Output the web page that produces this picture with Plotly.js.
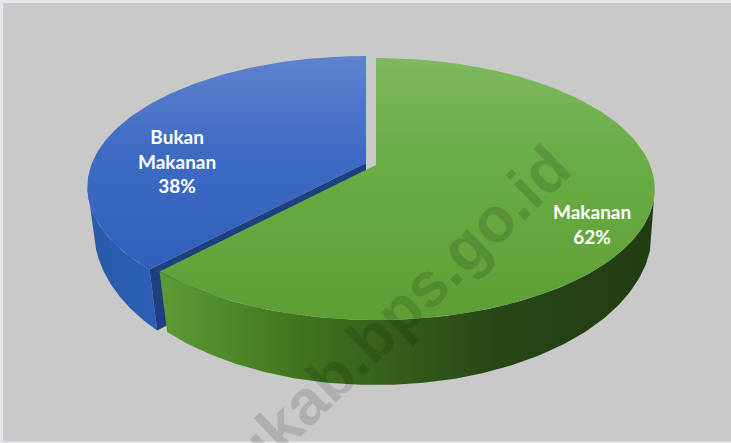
<!DOCTYPE html>
<html><head><meta charset="utf-8">
<script src="https://cdn.plot.ly/plotly-3.0.1.min.js"></script>
<style>html,body{margin:0;padding:0;background:#e3e6ea}#c{width:731px;height:443px}</style>
</head><body><div id="c"></div>
<script>
var categories = ['Bukan Makanan', 'Makanan'];
var labelLines = ['Bukan<br>Makanan', 'Makanan'];
var values = [38, 62];
var watermark = 'ukab.bps.go.id';

// Perspective view of the pie disc (upper face) and the ellipse of its lower rim
var apexGreen = [376, 165], apexBlue = [366, 163];
var RX = 274, RY = 126.6, K = 0.183, LOWER_X = 0.965;
var rimGreen = { cx: 376, cy: 232, a: 276, b: 153 };
var rimBlue = { cx: 366, cy: 230, a: 272, b: 157 };
function project(apex, a) { // a = clockwise radians from top
  var u = Math.sin(a), v = Math.cos(a), w = 1 + K * v;
  return [apex[0] + RX * u / w, apex[1] - RY * v / w];
}
function arc(apex, a0, a1) {
  var pts = [], n = 120;
  for (var i = 0; i <= n; i++) pts.push(project(apex, a0 + (a1 - a0) * i / n));
  return pts;
}
// lower rim, t measured from straight down (negative = to the left)
function rimArc(r, t0, t1) {
  var pts = [], n = 120;
  for (var i = 0; i <= n; i++) {
    var t = t0 + (t1 - t0) * i / n;
    pts.push([r.cx + r.a * Math.sin(t), r.cy + r.b * Math.cos(t)]);
  }
  return pts;
}
function poly(pts, color, grad) {
  var t = { type: 'scatter', mode: 'lines', hoverinfo: 'skip', showlegend: false,
    x: pts.map(function (p) { return p[0]; }), y: pts.map(function (p) { return p[1]; }),
    fill: 'toself', line: { width: 0, color: 'rgba(0,0,0,0)' }, fillcolor: color };
  if (grad) t.fillgradient = grad;
  return t;
}
function extremeIndex(pts, sign) {
  var best = 0;
  pts.forEach(function (p, i) { if (sign * p[0] > sign * pts[best][0]) best = i; });
  return best;
}
var total = values[0] + values[1];
var cut = 2 * Math.PI * values[0] / total;
var blueArc = arc(apexBlue, -cut, 0);
var greenArc = arc(apexGreen, 0, 2 * Math.PI - cut);
var blueCorner = blueArc[0], greenCorner = greenArc[greenArc.length - 1];
var tBlue = Math.asin((blueCorner[0] - apexBlue[0]) * LOWER_X / rimBlue.a);
var tGreen = Math.asin((greenCorner[0] - apexGreen[0]) * LOWER_X / rimGreen.a);
var RIM_END = 83 * Math.PI / 180;
var blueRim = rimArc(rimBlue, tBlue, -RIM_END);
var greenRim = rimArc(rimGreen, tGreen, RIM_END);
var blueLowCorner = blueRim[0];
var blueLowApex = [apexBlue[0], apexBlue[1] + 60];
var blueUpper = blueArc.slice(0, extremeIndex(blueArc, -1) + 1).reverse();
var greenUpper = greenArc.slice(extremeIndex(greenArc, 1));
var traces = [
  poly(blueRim.concat(blueUpper), '#2c5cad', { type: 'horizontal', start: 85, stop: 160,
    colorscale: [[0, '#2b5aa6'], [1, '#2b5fb8']] }),
  poly([blueCorner, apexBlue, blueLowApex, blueLowCorner], '#1f3f80'),
  poly([apexBlue].concat(blueArc), '#3c68c2', { type: 'vertical', start: 56, stop: 272,
    colorscale: [[0, '#5f83cd'], [0.45, '#3e6ac3'], [1, '#2f60bb']] }),
  poly(greenUpper.concat(greenRim), '#41731f', { type: 'horizontal', start: 160, stop: 656,
    colorscale: [[0, '#5c9c36'], [0.28, '#41741f'], [0.68, '#274616'], [1, '#223c12']] }),
  poly([apexGreen].concat(greenArc), '#64a238', { type: 'vertical', start: 58, stop: 320,
    colorscale: [[0, '#7fb961'], [0.35, '#6bad47'], [1, '#5e9f34']] })
];
var annotations = [
  { x: 399, y: 311, xref: 'x', yref: 'y', text: '<b>' + watermark + '</b>', showarrow: false, textangle: -44,
    font: { family: 'Liberation Sans', size: 63, color: 'rgba(0,0,0,0.13)' }, xanchor: 'center', yanchor: 'middle' },
  { x: 177, y: 161, xref: 'x', yref: 'y', text: labelLines[0] + '<br>' + values[0] + '%', showarrow: false },
  { x: 592, y: 224, xref: 'x', yref: 'y', text: labelLines[1] + '<br>' + values[1] + '%', showarrow: false }
];
annotations.slice(1).forEach(function (a) {
  a.font = { family: 'Lato', size: 19, color: '#ffffff' };
  a.text = '<b>' + a.text.split('<br>').join('</b><br><b>') + '</b>';
});
var layout = {
  width: 731, height: 443, margin: { l: 0, r: 0, t: 0, b: 0 },
  paper_bgcolor: '#e3e6ea', plot_bgcolor: '#e3e6ea', showlegend: false,
  xaxis: { range: [0, 731], visible: false, fixedrange: true },
  yaxis: { range: [443, 0], visible: false, fixedrange: true },
  shapes: [{ type: 'rect', layer: 'below', xref: 'x', yref: 'y', x0: 3, x1: 731, y0: 3, y1: 441.5,
    fillcolor: '#c9c9c9', line: { width: 0 } }],
  annotations: annotations
};
Plotly.newPlot('c', traces, layout, { displayModeBar: false, staticPlot: true });
</script></body></html>
